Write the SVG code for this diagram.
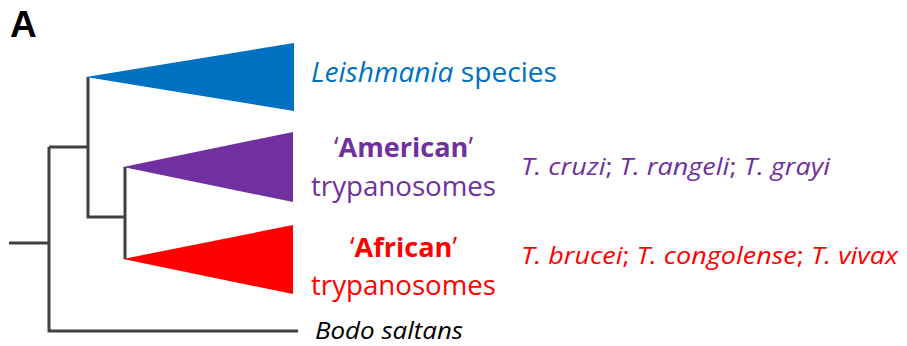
<svg xmlns="http://www.w3.org/2000/svg" width="907" height="346" viewBox="0 0 907 346">
<style>
.t{font-family:"Open Sans","Noto Sans",sans-serif;}
.it{font-style:italic;}
.b{font-weight:bold;}
.up{font-style:normal;}
.tree{fill:none;stroke:#404040;stroke-width:3;stroke-linecap:butt;stroke-linejoin:miter;}
</style>
<rect width="907" height="346" fill="#ffffff"/>
<text x="10" y="37" font-family="Liberation Sans, Arial, sans-serif" font-weight="bold" font-size="37" fill="#000">A</text>
<g id="connectors">
<path class="tree" d="M9,243 H49"/>
<path class="tree" d="M49,147 V331 H298"/>
<path class="tree" d="M49,147 H88"/>
<path class="tree" d="M88,77 V217 H125"/>
<path class="tree" d="M125,167 V259"/>
</g>
<g id="leishmania">
<polygon points="86,77 294,43 294,111" fill="#0070C0"/>
<text class="t" x="311" y="82" font-size="28" fill="#0070C0" textLength="246" lengthAdjust="spacingAndGlyphs"><tspan class="it">Leishmania</tspan> species</text>
</g>
<g id="american">
<polygon points="123,167 293,132 293,202" fill="#7030A0"/>
<text class="t" x="334" y="157" font-size="27" fill="#7030A0" textLength="139" lengthAdjust="spacingAndGlyphs">‘<tspan class="b">American</tspan>’</text>
<text class="t" x="311" y="196" font-size="27" fill="#7030A0" textLength="185" lengthAdjust="spacingAndGlyphs">trypanosomes</text>
<text class="t it" x="521" y="175" font-size="24.5" fill="#7030A0" textLength="309" lengthAdjust="spacingAndGlyphs">T. cruzi<tspan class="up">;</tspan> T. rangeli<tspan class="up">;</tspan> T. grayi</text>
</g>
<g id="african">
<polygon points="123,259 293,225 293,294" fill="#FF0000"/>
<text class="t" x="350" y="257" font-size="27" fill="#FF0000" textLength="107" lengthAdjust="spacingAndGlyphs">‘<tspan class="b">African</tspan>’</text>
<text class="t" x="311" y="295" font-size="27" fill="#FF0000" textLength="185" lengthAdjust="spacingAndGlyphs">trypanosomes</text>
<text class="t it" x="521" y="264" font-size="24.5" fill="#FF0000" textLength="377" lengthAdjust="spacingAndGlyphs">T. brucei<tspan class="up">;</tspan> T. congolense<tspan class="up">;</tspan> T. vivax</text>
</g>
<g id="bodo">
<text class="t it" x="315" y="339" font-size="24" fill="#000" textLength="148" lengthAdjust="spacingAndGlyphs">Bodo saltans</text>
</g>
</svg>
